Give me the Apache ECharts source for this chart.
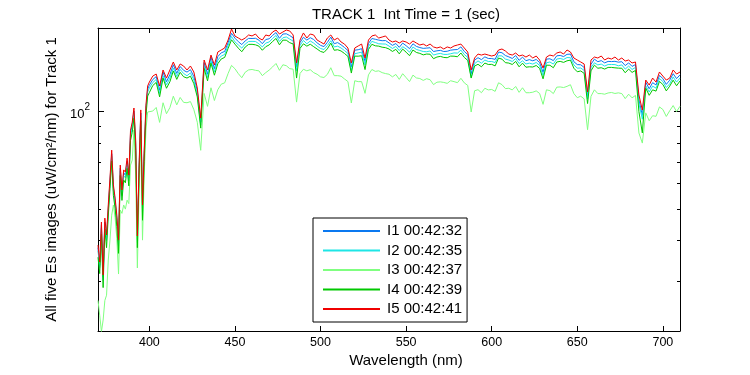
<!DOCTYPE html>
<html><head><meta charset="utf-8">
<script src="https://cdn.jsdelivr.net/npm/echarts@6/dist/echarts.min.js"></script>
<style>html,body{margin:0;padding:0;background:#fff}#c{width:750px;height:375px}</style>
</head><body><div id="c"></div><script>
const wavelength = [370,371,372,373,374,375,376,377,378,379,380,381,382,383,384,385,386,387,388,389,390,391,392,393,394,395,396,397,398,399,400,
402,404,406,408,410,412,414,416,418,420,422,424,426,428,430,432,434,436,438,440,442,444,446,448,450,
452,454,456,458,460,462,464,466,468,470,472,474,476,478,480,482,484,486,488,490,492,494,496,498,500,
502,504,506,508,510,512,514,516,518,520,522,524,526,528,530,532,534,536,538,540,542,544,546,548,550,
552,554,556,558,560,562,564,566,568,570,572,574,576,578,580,582,584,586,588,590,592,594,596,598,600,
602,604,606,608,610,612,614,616,618,620,622,624,626,628,630,632,634,636,638,640,642,644,646,648,650,
652,654,656,658,660,662,664,666,668,670,672,674,676,678,680,682,684,686,688,690,692,694,696,698,700,
702,704,706,708,710];

const I1 = [38.0,33.5,44.8,30.8,45.6,40.9,50.2,61.0,74.2,58.3,53.0,46.9,39.2,66.9,56.0,64.8,63.6,70.3,62.4,85.8,90.9,100.5,79.9,40.2,66.8,99.1,50.1,74.4,102.4,117.5,120.8,
125.8,128.4,116.5,132.6,123.8,130.3,139.7,131.4,138.0,134.3,132.6,134.9,128.5,116.0,93.0,141.9,130.6,147.5,135.9,148.1,152.1,153.6,163.6,174.8,168.8,
164.6,161.3,165.6,168.6,168.4,168.7,166.5,162.3,167.2,168.1,172.2,175.7,168.7,173.8,174.2,172.0,169.2,137.5,163.6,169.9,166.5,169.4,167.2,163.3,160.4,
159.0,163.9,170.1,162.3,163.6,161.0,158.0,154.6,137.6,155.0,155.5,156.7,143.0,162.6,168.4,167.5,166.5,165.8,166.0,163.3,160.4,162.5,158.2,163.0,160.0,
156.7,162.2,159.2,157.9,157.0,157.3,157.7,153.5,154.3,154.8,153.5,153.8,155.0,155.5,155.7,158.7,153.6,150.2,131.0,144.4,146.9,144.9,147.8,146.1,146.0,
145.2,152.9,152.2,149.2,147.8,146.1,149.2,144.2,147.5,143.8,144.9,143.7,145.1,141.9,132.4,145.4,145.8,143.9,148.9,149.3,148.1,150.5,150.7,142.8,139.9,
139.7,137.1,112.0,140.2,145.4,142.8,143.9,141.6,143.1,142.9,143.2,142.3,142.8,138.9,141.6,138.1,139.9,109.0,97.5,123.4,117.8,123.0,121.0,129.5,126.6,
121.5,125.2,131.1,126.6,130.0];

const I2 = [37.2,33.0,43.5,30.1,45.0,40.0,49.3,59.8,72.9,57.0,52.0,46.0,38.4,65.6,55.0,63.4,62.5,69.0,61.1,84.0,89.2,98.6,78.4,39.4,65.5,97.2,48.9,72.9,100.5,115.1,118.3,
123.1,125.8,113.9,129.2,121.0,127.1,136.5,128.5,135.2,131.3,129.2,131.9,125.3,113.4,90.8,139.0,127.6,143.7,132.8,144.4,148.7,150.3,160.3,170.8,164.5,
160.9,157.3,161.9,164.9,165.0,164.9,162.2,158.6,163.0,164.3,168.5,172.1,164.9,169.3,170.3,167.7,165.4,134.0,160.3,166.1,162.2,165.5,163.0,159.6,156.9,
155.7,160.2,165.8,158.6,159.5,157.4,154.6,151.4,134.2,151.1,152.0,152.8,139.5,159.1,165.0,163.7,162.2,162.0,161.9,159.6,156.9,159.2,154.6,158.9,156.4,
152.8,158.5,155.8,154.7,153.5,153.3,154.1,149.7,150.8,151.5,150.4,150.4,151.1,152.0,151.8,155.1,150.3,147.2,127.8,140.7,143.6,141.3,144.5,143.0,143.0,
141.9,149.0,148.8,145.5,144.5,143.0,146.1,141.0,143.7,140.5,141.3,140.4,142.0,139.0,129.4,141.7,142.5,140.4,145.5,146.1,145.1,147.1,146.9,139.6,136.4,
136.5,134.2,109.5,137.0,141.7,139.6,140.4,138.4,140.0,140.0,139.9,138.7,139.6,135.5,138.4,135.1,137.1,106.0,94.8,120.3,115.1,120.0,118.3,126.7,124.0,
118.8,122.0,128.1,123.5,127.1];

const I3 = [26.1,23.5,20.9,22.7,26.1,27.1,34.8,40.1,47.9,51.5,47.0,40.5,31.5,49.7,48.5,51.5,50.0,53.3,52.0,68.4,70.9,87.8,63.7,32.9,57.3,81.7,40.1,63.7,87.8,99.8,100.5,
100.5,103.1,92.7,106.6,98.6,103.0,111.7,105.0,110.7,106.9,106.6,107.5,101.5,92.8,76.0,113.9,103.9,118.6,108.3,117.0,121.7,122.8,131.3,139.1,135.8,
131.1,127.4,132.5,134.7,135.1,134.3,133.8,129.3,132.1,134.5,137.6,141.0,134.3,139.7,138.8,135.9,135.4,107.1,131.3,135.3,133.8,134.9,132.1,130.6,128.2,
127.6,130.5,136.8,129.3,129.3,128.8,126.3,124.0,106.4,124.7,123.9,123.9,114.0,130.0,135.1,133.3,133.8,132.1,131.2,130.6,128.2,130.4,125.9,131.1,127.5,
123.9,129.8,127.2,126.7,125.0,126.5,125.6,121.3,123.4,123.7,123.2,122.4,124.7,123.9,123.0,126.9,122.8,120.6,99.8,116.1,117.0,114.5,118.2,116.8,117.2,
115.6,122.9,121.3,117.9,118.2,116.8,119.7,114.8,118.6,114.5,114.5,114.9,116.0,113.9,105.4,116.9,116.2,113.8,119.1,119.3,118.8,119.8,121.2,113.8,110.5,
111.7,109.6,88.0,111.6,116.9,113.8,113.8,113.3,114.3,114.7,113.9,114.4,113.8,109.8,113.3,110.4,112.3,86.0,80.0,99.2,93.8,97.2,96.8,103.5,101.6,
96.7,100.7,104.5,100.1,104.0];

const I4 = [35.5,31.6,41.8,28.6,43.4,38.0,47.6,57.8,70.4,55.0,50.3,44.2,36.5,63.5,53.2,61.5,60.3,66.8,59.0,81.5,86.4,95.5,75.8,38.0,63.3,93.9,46.2,70.3,97.2,111.8,114.6,
120.5,123.2,111.2,127.1,118.2,123.8,133.7,125.9,132.4,128.3,127.1,128.8,122.1,111.1,89.0,136.1,124.6,141.3,129.7,140.8,145.6,147.2,156.9,166.9,161.8,
157.2,153.3,158.5,161.5,161.6,161.0,159.5,154.9,158.9,160.9,164.9,168.5,161.0,166.5,166.4,163.5,162.0,127.1,156.9,162.2,159.5,161.7,158.9,156.3,153.6,
152.5,156.5,163.0,154.9,155.5,154.1,151.4,148.3,131.7,148.6,148.5,149.0,135.0,155.8,161.6,159.9,159.5,158.3,157.8,156.3,153.6,155.9,151.0,156.2,152.8,
149.0,155.2,152.5,151.5,149.9,150.8,150.6,145.9,147.6,148.3,147.2,146.9,148.6,148.5,147.9,151.9,147.2,144.1,127.1,138.4,140.2,137.7,141.4,140.0,140.1,
138.6,146.5,145.4,141.8,141.4,140.0,143.1,137.7,141.3,137.3,137.7,137.5,139.0,136.1,126.4,139.3,139.2,136.8,142.5,143.1,142.1,143.7,144.4,136.3,132.9,
133.7,131.4,106.0,133.8,139.3,136.3,136.8,135.5,137.1,137.1,136.7,136.4,136.3,132.0,135.5,132.3,134.2,100.0,86.0,118.3,112.4,116.9,115.8,124.1,121.4,
116.0,120.0,125.2,120.3,124.5];

const I5 = [38.7,34.3,45.6,31.3,46.9,41.6,51.5,62.4,76.1,59.4,54.1,47.9,40.1,68.4,57.3,66.1,65.1,71.9,63.7,87.7,92.9,102.7,81.7,41.3,68.4,101.3,51.5,76.1,104.8,120.1,123.5,
128.9,130.8,120.1,134.6,127.1,134.6,142.5,134.6,140.5,138.5,134.6,138.5,132.7,118.4,95.6,144.5,134.6,149.7,139.5,153.0,155.2,157.4,166.6,180.2,171.4,
169.0,166.6,169.0,172.7,171.5,173.9,169.0,166.6,172.7,171.5,176.4,178.9,173.9,176.4,178.9,177.7,172.7,141.5,166.6,175.2,169.0,173.9,172.7,166.6,164.3,
161.9,169.0,172.7,166.6,169.0,164.3,161.9,157.4,141.5,157.4,159.7,161.9,146.6,166.6,171.5,172.7,169.0,170.2,171.5,166.6,164.3,165.5,163.1,165.5,164.3,
161.9,165.5,163.1,160.8,161.9,159.7,161.9,158.6,157.4,158.6,156.3,158.6,157.4,159.7,160.8,161.9,157.4,153.0,134.6,146.6,150.8,149.7,150.8,149.7,148.7,
149.7,155.2,156.3,154.1,150.8,149.7,151.9,148.7,149.7,147.6,149.7,146.6,148.7,144.5,136.5,147.6,149.7,148.7,151.9,153.0,150.8,155.2,153.0,146.6,144.5,
142.5,140.5,115.1,144.5,147.6,146.6,148.7,144.5,146.6,145.5,147.6,144.5,146.6,143.5,144.5,141.5,142.5,112.7,101.2,125.3,120.9,127.1,123.5,132.7,128.9,
125.3,127.1,134.6,130.8,132.7];

const seriesNames = ['I1 00:42:32','I2 00:42:35','I3 00:42:37','I4 00:42:39','I5 00:42:41'];
const seriesColors = ['#0A78F0','#1EE6E6','#80FF80','#00C800','#F00000'];
const xTicks = [400,450,500,550,600,650,700];
const yMajorTicks = [100];
const yMinorTicks = [30,40,50,60,70,80,90];
const yMin = 21, yMax = 181.5, xMin = 370, xMax = 710;

const font = '"Liberation Sans", Arial, Helvetica, sans-serif';
const lg = v => Math.log10(v);
const chart = echarts.init(document.getElementById('c'));
const dataSets = [I1, I2, I3, I4, I5];
const black = {color:'#000', width:1};

function auxY(pos, ticks, len, showLine, extra) {
  return Object.assign({
    type:'value', position:pos, min:lg(yMin), max:lg(yMax),
    axisLine:{show:showLine, lineStyle:black},
    axisTick:{show:true, inside:true, length:len, customValues:ticks.map(lg), lineStyle:black},
    axisLabel:{show:false}, splitLine:{show:false}
  }, extra || {});
}

chart.setOption({
  animation:false,
  backgroundColor:'#fff',
  title:[
    {text:'TRACK 1  Int Time = 1 (sec)', left:401, top:2, textAlign:'center',
     textStyle:{fontFamily:font, fontSize:15, fontWeight:'normal', color:'#000'}},
    {text:'Wavelength (nm)', left:401, top:348, textAlign:'center',
     textStyle:{fontFamily:font, fontSize:15, fontWeight:'normal', color:'#000'}}
  ],
  grid:{left:98, top:28, width:582, height:303, show:false},
  legend:{
    orient:'vertical', left:313, top:218, icon:'rect', itemWidth:57, itemHeight:2, itemGap:3.5,
    padding:[5,5,5,10], borderColor:'#000', borderWidth:1, backgroundColor:'#fff',
    textStyle:{fontFamily:font, fontSize:15, color:'#000', lineHeight:16, padding:[0,0,0,2]},
    data:seriesNames
  },
  xAxis:[
    {type:'value', min:xMin, max:xMax, position:'bottom',
     axisLine:{lineStyle:black},
     axisTick:{inside:true, length:5, customValues:xTicks, lineStyle:black},
     axisLabel:{customValues:xTicks, color:'#000', fontSize:12.5, fontFamily:font, margin:5},
     splitLine:{show:false}},
    {type:'value', min:xMin, max:xMax, position:'top',
     axisLine:{lineStyle:black},
     axisTick:{inside:true, length:5, customValues:xTicks, lineStyle:black},
     axisLabel:{show:false}, splitLine:{show:false}}
  ],
  yAxis:[
    {type:'log', logBase:10, min:yMin, max:yMax, show:false},
    auxY('left', yMajorTicks, 6, true, {
      axisLabel:{show:true, customValues:yMajorTicks.map(lg), margin:8,
        formatter:() => '{b|10}{s|2}',
        rich:{b:{fontSize:13, fontFamily:font, color:'#000', lineHeight:18, verticalAlign:'bottom'},
              s:{fontSize:10, fontFamily:font, color:'#000', verticalAlign:'top', lineHeight:18}}},
      name:'All five Es images (uW/cm²/nm) for Track 1', nameLocation:'middle', nameGap:36, nameRotate:90,
      nameTextStyle:{fontFamily:font, fontSize:15, color:'#000'}
    }),
    auxY('left', yMinorTicks, 3, false),
    auxY('right', yMajorTicks, 6, true),
    auxY('right', yMinorTicks, 3, false)
  ],
  series: dataSets.map((d, k) => ({
    name:seriesNames[k], type:'line', xAxisIndex:0, yAxisIndex:0, symbol:'none', showSymbol:false,
    clip:true, color:seriesColors[k], lineStyle:{width:1, color:seriesColors[k]},
    data: wavelength.map((w, i) => [w, d[i]])
  }))
});
</script></body></html>
